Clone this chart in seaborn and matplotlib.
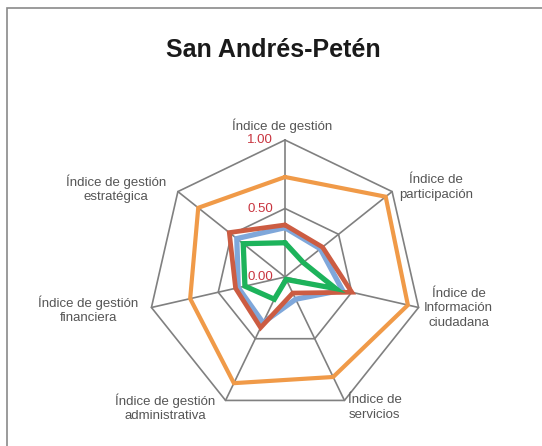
import numpy as np
import pandas as pd
import matplotlib
matplotlib.use("Agg")
import matplotlib.pyplot as plt
import seaborn as sns
from matplotlib.patches import Rectangle

# ---------------- data ----------------
title = "San Andrés-Petén"
categories = [
    "Índice de gestión",
    "Índice de\nparticipación",
    "Índice de\nInformación\nciudadana",
    "Índice de\nservicios",
    "Índice de gestión\nadministrativa",
    "Índice de gestión\nfinanciera",
    "Índice de gestión\nestratégica",
]
serie_naranja = [0.73, 0.94, 0.92, 0.81, 0.86, 0.71, 0.81]
serie_azul = [0.36, 0.33, 0.43, 0.18, 0.37, 0.35, 0.45]
serie_roja = [0.38, 0.35, 0.50, 0.13, 0.41, 0.37, 0.52]
serie_verde = [0.25, 0.17, 0.38, 0.02, 0.18, 0.30, 0.39]
tick_values = [0.0, 0.5, 1.0]
tick_labels = ["0.00", "0.50", "1.00"]

# ---------------- style ----------------
sns.set_theme(style="white")
plt.rcParams["font.family"] = ["Liberation Sans", "DejaVu Sans"]

series = [
    ("naranja", serie_naranja, "#F09A48", 3.0),
    ("azul", serie_azul, "#7FA7DA", 3.8),
    ("roja", serie_roja, "#CC5C42", 3.4),
    ("verde", serie_verde, "#1DB35B", 3.8),
]
grid_color = "#808080"
label_color = "#555555"
tick_color = "#C8343F"
# label offsets (pixels) from each outer vertex
label_offsets = [(-3, 14), (44, 4), (40, -1), (30, -7), (-60, -7), (-63, -2), (-62, 3)]

n = len(categories)
theta = np.linspace(0, 2 * np.pi, n, endpoint=False)
theta_closed = np.append(theta, theta[0] + 2 * np.pi)

W, H = 542, 446
fig = plt.figure(figsize=(W / 100, H / 100), dpi=100)
fig.patch.set_facecolor("white")

cx, cy, R = 285, 277, 137
ax = fig.add_axes([(cx - R) / W, (H - cy - R) / H, 2 * R / W, 2 * R / H], projection="polar")
ax.set_theta_zero_location("N")
ax.set_theta_direction(-1)
ax.set_ylim(0, 1)
ax.grid(False)
ax.spines["polar"].set_visible(False)
ax.set_xticks([])
ax.set_yticks([])
ax.patch.set_alpha(0)

# grid heptagons and spokes
for v in tick_values[1:]:
    ax.plot(theta_closed, [v] * (n + 1), color=grid_color, lw=1.2, clip_on=False, zorder=1)
for t in theta:
    ax.plot([t, t], [0, 1], color=grid_color, lw=1.2, clip_on=False, zorder=1)

# data series
for i, (name, vals, col, lw) in enumerate(series):
    df = pd.DataFrame({"theta": theta_closed, "r": list(vals) + [vals[0]]})
    sns.lineplot(data=df, x="theta", y="r", sort=False, estimator=None,
                 color=col, linewidth=lw, ax=ax, zorder=3 + i)
    for l in ax.lines[-1:]:
        l.set_clip_on(False)
        l.set_solid_joinstyle("miter")
ax.set_xlabel("")
ax.set_ylabel("")
ax.set_ylim(0, 1)

# tick labels
for v, lab in zip(tick_values, tick_labels):
    ax.annotate(lab, xy=(0, v), xytext=(-12, 0), textcoords="offset pixels",
                ha="right", va="center", color=tick_color, fontsize=9.5, zorder=10)

# category labels
for t, lab, off in zip(theta, categories, label_offsets):
    ax.annotate(lab, xy=(t, 1), xytext=off, textcoords="offset pixels",
                ha="center", va="center", color=label_color, fontsize=9.5,
                linespacing=1.25, annotation_clip=False)

fig.text(273 / W, 1 - 50 / H, title, ha="center", va="center",
         fontsize=18, fontweight="bold", color="#1a1a1a")

# frame (left and top border)
fig.add_artist(Rectangle((7 / W, -0.1), 1.2, 1.1 - 8 / H, transform=fig.transFigure,
                         fill=False, edgecolor="#8a8a8a", lw=1.2))

fig.savefig("out.png", dpi=100)
